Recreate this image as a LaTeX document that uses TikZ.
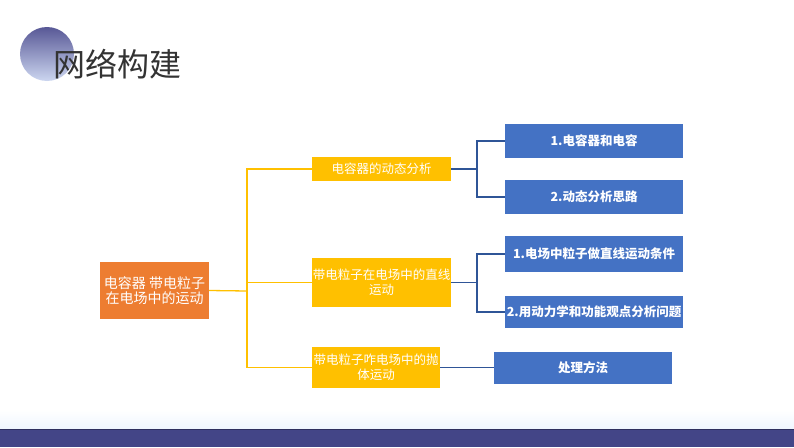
\documentclass[tikz,border=0pt]{standalone}
\usepackage{fontspec}
\setmainfont{Noto Sans CJK SC}
\usepackage{tikz}
\usetikzlibrary{positioning}
\tikzstyle{slide} = [x = 1pt, y = -1pt]
\definecolor{rootColor}{HTML}{ED7D31}
\definecolor{topicColor}{HTML}{FFC000}
\definecolor{detailColor}{HTML}{4472C4}
\definecolor{detailLineColor}{HTML}{2F5597}
\definecolor{barColor}{RGB}{67,69,135}
\definecolor{titleColor}{RGB}{51,51,51}
\tikzstyle{rootStyle} = [fill=rootColor, text=white, inner sep=0pt, align=center, minimum width=109pt, minimum height=57pt, font=\fontsize{14}{15.5}\selectfont]
\tikzstyle{topicStyle} = [fill=topicColor, text=white, inner sep=0pt, align=center, font=\fontsize{12.5}{15}\selectfont]
\tikzstyle{detailStyle} = [fill=detailColor, text=white, inner sep=0pt, align=center, minimum width=178pt, font=\fontsize{12.5}{14}\selectfont\bfseries]
\tikzstyle{topicLine} = [color=topicColor, line width=1.3pt]
\tikzstyle{detailLine} = [color=detailLineColor, line width=1.3pt]
\newcommand{\topicBox}[6]{\node [topicStyle, minimum width=#4pt, minimum height=#5pt] (#1) at (#2,#3) {#6};}
\newcommand{\detailBox}[5]{\node [detailStyle, minimum height=#4pt] (#1) at (#2,#3) {#5};}

\begin{document}
\begin{tikzpicture}[slide]
  \useasboundingbox (0,0) rectangle (794,447);
  % title
  \shade [top color={rgb,255:red,88;green,88;blue,150}, bottom color={rgb,255:red,204;green,214;blue,240}] (47,54) circle (27);
  \node [anchor=west, inner sep=0pt, text=titleColor, font=\fontsize{32}{34}\selectfont] (title) at (53,64) {网络构建};
  % bottom bar
  \shade [top color=white, bottom color={rgb,255:red,240;green,246;blue,255}] (0,410) rectangle (794,428);
  \fill [barColor] (0,429) rectangle (794,447);
  \draw [barColor!70!black, line width=0.8pt] (0,429) -- (794,429);
  % boxes
  \node [rootStyle] (root) at (154.5,290.5) {电容器 带电粒子\\在电场中的运动};
  \topicBox{dynamic}{381.5}{169}{139}{24}{电容器的动态分析}
  \topicBox{linear}{381.5}{282.5}{139}{49}{带电粒子在电场中的直线\\运动}
  \topicBox{projectile}{376}{367.5}{128}{41}{带电粒子咋电场中的抛\\体运动}
  \detailBox{capacitor}{594}{141}{34}{1.电容器和电容}
  \detailBox{thinking}{594}{197}{34}{2.动态分析思路}
  \detailBox{condition}{594}{254}{36}{1.电场中粒子做直线运动条件}
  \detailBox{viewpoint}{594}{312}{32}{2.用动力学和功能观点分析问题}
  \detailBox{method}{583}{367.5}{32}{处理方法}
  % connectors
  \coordinate (topicTrunk) at (247,291);
  \coordinate (dynamicTrunk) at (477,169);
  \coordinate (linearTrunk) at (477,282.5);
  \draw [topicLine] (root.east) -- (topicTrunk);
  \foreach \topic in {dynamic, linear, projectile} {
    \draw [topicLine] (\topic.west) -| (topicTrunk);
  }
  \draw [detailLine] (dynamic.east) -- (dynamicTrunk);
  \draw [detailLine] (capacitor.west) -| (dynamicTrunk);
  \draw [detailLine] (thinking.west) -| (dynamicTrunk);
  \draw [detailLine] (linear.east) -- (linearTrunk);
  \draw [detailLine] (condition.west) -| (linearTrunk);
  \draw [detailLine] (viewpoint.west) -| (linearTrunk);
  \draw [detailLine] (projectile.east) -- (method.west);
\end{tikzpicture}
\end{document}
